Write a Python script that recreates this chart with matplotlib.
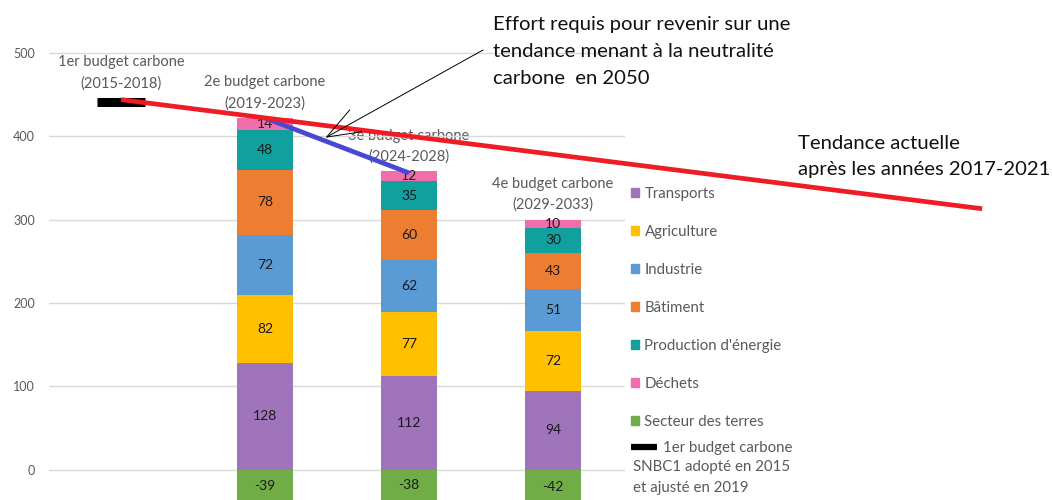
import numpy as np
import matplotlib.pyplot as plt
from matplotlib.patches import Patch
from matplotlib.lines import Line2D

plt.rcParams['font.family'] = ['Lato', 'DejaVu Sans']

# budgets carbone (catégories)
budgets = ['1er budget carbone\n(2015-2018)', '2e budget carbone\n(2019-2023)',
           '3e budget carbone\n(2024-2028)', '4e budget carbone\n(2029-2033)']

# émissions par secteur (MtCO2e), budgets 2 à 4
transports = [128, 112, 94]
agriculture = [82, 77, 72]
industrie = [72, 62, 51]
batiment = [78, 60, 43]
energie = [48, 35, 30]
dechets = [14, 12, 10]
terres = [-39, -38, -42]

budget1 = 441  # 1er budget carbone (trait noir)

# tendances
tendance_x = [0, 5.98]
tendance_y = [444, 313]
effort_x = [1, 2]
effort_y = [422, 356]

secteurs = ['Transports', 'Agriculture', 'Industrie', 'Bâtiment',
            "Production d'énergie", 'Déchets']
valeurs = [transports, agriculture, industrie, batiment, energie, dechets]
couleurs = ['#a074bb', '#ffc000', '#5b9bd5', '#ed7d31', '#10a19f', '#f06fab']
vert = '#70ad47'
gris = '#595959'

W, H = 1052, 500
fig = plt.figure(figsize=(W / 100, H / 100), dpi=100)
ax = fig.add_axes([49 / W, 0, 576 / W, 1])

x = np.arange(1, 4)
larg = 0.39
bas = np.zeros(3)
for nom, v, c in zip(secteurs, valeurs, couleurs):
    ax.bar(x, v, larg, bottom=bas, color=c, zorder=2)
    for xi, b, vi in zip(x, bas, v):
        ax.text(xi, b + vi / 2, str(vi), ha='center', va='center',
                fontsize=10, color='#1a1a1a', zorder=3)
    bas = bas + np.array(v)
ax.bar(x, terres, larg, color=vert, zorder=2)
for xi, vi in zip(x, terres):
    ax.text(xi, vi / 2, str(vi), ha='center', va='center', fontsize=10,
            color='#1a1a1a', zorder=3)

ax.plot([0], [budget1], marker='_', ms=34, mew=6.5, color='black', zorder=4)

# étiquettes des budgets
sommets = [budget1 + 5] + list(bas)
for i, (lab, s) in enumerate(zip(budgets, sommets)):
    ax.text(i, s + 30, lab, ha='center', va='center',
            fontsize=10.5, color=gris, linespacing=1.6, zorder=1)

ax.plot(tendance_x, tendance_y, color='#ee1c25', lw=3.4, clip_on=False,
        solid_capstyle='butt', zorder=5)
ax.plot(effort_x, effort_y, color='#4848d4', lw=3.4, solid_capstyle='butt',
        zorder=4)

xa = 1.42
ax.annotate('', xy=(xa, np.interp(xa, effort_x, effort_y) + 4),
            xytext=(483, H - 50), textcoords='figure pixels',
            arrowprops=dict(arrowstyle='->,head_length=2.4,head_width=0.9',
                            lw=0.7, color='black', shrinkA=0, shrinkB=0),
            zorder=6)

ax.set_xlim(-0.5, 3.5)
ax.set_ylim(-36.6, 563.6)
ax.set_yticks(range(0, 501, 100))
ax.set_xticks([])
ax.tick_params(axis='y', length=0, labelsize=9, labelcolor=gris, pad=10)
ax.grid(axis='y', color='#d9d9d9', lw=1, zorder=0)
for s in ax.spines.values():
    s.set_visible(False)

fig.text(493 / W, 1 - 16 / H,
         'Effort requis pour revenir sur une\ntendance menant à la neutralité\ncarbone  en 2050',
         ha='left', va='top', fontsize=14.6, color='#111111', linespacing=1.72)
fig.text(798 / W, 1 - 135 / H, 'Tendance actuelle\naprès les années 2017-2021',
         ha='left', va='top', fontsize=14.6, color='#111111', linespacing=1.66)

# légende
poignees = [Patch(color=c) for c in couleurs] + [Patch(color=vert)]
noms = secteurs + ['Secteur des terres']
fig.legend(poignees, noms, loc='upper left', bbox_to_anchor=(631 / W, 1 - 187 / H),
           frameon=False, fontsize=10.8, labelcolor=gris, handlelength=0.55,
           handleheight=0.55, handletextpad=0.35, labelspacing=1.6, borderpad=0,
           borderaxespad=0)
fig.legend([Line2D([], [], color='black', lw=4.5, solid_capstyle='butt')],
           ['1er budget carbone'], loc='upper left',
           bbox_to_anchor=(631 / W, 1 - 441 / H), frameon=False, fontsize=10.8,
           labelcolor=gris, handlelength=1.75, handletextpad=0.4, borderpad=0,
           borderaxespad=0)
fig.text(633 / W, 1 - 460 / H, 'SNBC1 adopté en 2015\net ajusté en 2019',
         ha='left', va='top', fontsize=10.8, color=gris, linespacing=1.6)

fig.savefig('out.png', dpi=100)
